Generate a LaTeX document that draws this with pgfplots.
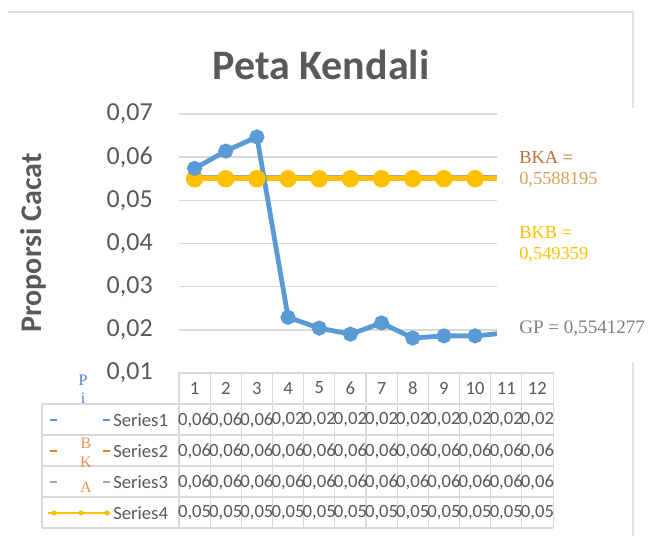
\documentclass[border=0pt]{standalone}
\usepackage{fontspec}
\setmainfont{Carlito}
\newfontfamily\tnr{Liberation Serif}
\usepackage{pgfplots}
\pgfplotsset{compat=1.18}
\definecolor{sblue}{HTML}{5B9BD5}
\definecolor{sorange}{HTML}{ED7D31}
\definecolor{sgray}{HTML}{A5A5A5}
\definecolor{syellow}{HTML}{FFC000}
\definecolor{txt}{HTML}{595959}
\definecolor{gridc}{HTML}{D9D9D9}
\definecolor{bka}{HTML}{B8733A}
\definecolor{bkanum}{HTML}{D9A05A}

\begin{document}
\begin{tikzpicture}[x=0.75pt,y=-0.75pt]
\path[use as bounding box] (0,0) rectangle (659,536);
% chart area border
\draw[gridc!80, line width=0.8pt] (8,12) -- (633,12) -- (633,536);

\begin{axis}[
    at={(134.25pt,-279.75pt)}, anchor=south west,
    scale only axis, width=280.5pt, height=194.25pt,
    xmin=0.5, xmax=12.5, ymin=0.01, ymax=0.07,
    xtick={1,2,3,4,5,6,7,8,9,10,11,12},
    ytick={0.01,0.02,0.03,0.04,0.05,0.06,0.07},
    yticklabels={{0,01},{0,02},{0,03},{0,04},{0,05},{0,06},{0,07}},
    scaled y ticks=false,
    /pgf/number format/assume math mode=true,
    axis line style={draw=none}, major tick length=0pt,
    ymajorgrids, grid style={gridc, line width=1.1pt},
    yticklabel style={font=\fontsize{19.5}{20}\selectfont, text=txt,
      anchor=east, inner sep=0pt, xshift=-19.5pt},
    xticklabel style={font=\fontsize{14}{15}\selectfont, text=txt,
      anchor=center, inner sep=0pt, yshift=-11.25pt},
  ]
  % Series2
  \addplot[sorange, line width=1.6pt] coordinates {
    (1,0.0552)(2,0.0552)(3,0.0552)(4,0.0552)(5,0.0552)(6,0.0552)
    (7,0.0552)(8,0.0552)(9,0.0552)(10,0.0552)(11,0.0552)(12,0.0552)
  };
  % Series3
  \addplot[sgray, line width=1.5pt] coordinates {
    (1,0.0556)(2,0.0556)(3,0.0556)(4,0.0556)(5,0.0556)(6,0.0556)
    (7,0.0556)(8,0.0556)(9,0.0556)(10,0.0556)(11,0.0556)(12,0.0556)
  };
  % Series4
  \addplot[syellow, line width=4pt, mark=*, mark size=4.5pt] coordinates {
    (1,0.0550)(2,0.0550)(3,0.0550)(4,0.0550)(5,0.0550)(6,0.0550)
    (7,0.0550)(8,0.0550)(9,0.0550)(10,0.0550)(11,0.0550)(12,0.0550)
  };
  % Series1
  \addplot[sblue, line width=3.6pt, mark=*, mark size=3.8pt] coordinates {
    (1,0.0574)(2,0.0614)(3,0.0647)(4,0.0229)(5,0.0204)(6,0.0190)
    (7,0.0216)(8,0.0181)(9,0.0186)(10,0.0186)(11,0.0193)(12,0.0190)
  };
\end{axis}

% title and y label
\node[font=\fontsize{31.5}{33}\selectfont\bfseries, text=txt] at (321,65) {Peta Kendali};
\node[font=\fontsize{22.5}{24}\selectfont\bfseries, text=txt, rotate=90] at (33,243) {Proporsi Cacat};

% data table grid
\begin{scope}[draw=gridc, line width=0.8pt]
  \foreach \k in {0,...,12} \draw (179+31.17*\k,372) -- (179+31.17*\k,528);
  \foreach \yy in {404,435,466,497,528} \draw (42,\yy) -- (553,\yy);
  \draw (42,404) -- (42,528);
\end{scope}

% table values
\begin{scope}[font=\fontsize{14}{15}\selectfont, text=txt]
  \foreach \i in {1,...,12} {
    \node at (163.4+31.17*\i,420) {\ifnum\i<4 0,06\else 0,02\fi};
    \node at (163.4+31.17*\i,451) {0,06};
    \node at (163.4+31.17*\i,482) {0,06};
    \node at (163.4+31.17*\i,513) {0,05};
  }
  \node[anchor=west, inner sep=0pt] at (113,420) {Series1};
  \node[anchor=west, inner sep=0pt] at (113,451) {Series2};
  \node[anchor=west, inner sep=0pt] at (113,482) {Series3};
  \node[anchor=west, inner sep=0pt] at (113,513) {Series4};
\end{scope}

% legend keys
\foreach \c/\yy in {sblue/420, sorange/451, sgray/482} {
  \draw[\c, line width=2.2pt] (50,\yy) -- (57,\yy);
  \draw[\c, line width=2.2pt] (103,\yy) -- (110,\yy);
}
\draw[syellow, line width=1.6pt] (48,513) -- (110,513);
\foreach \xx in {54,81,107} \fill[syellow] (\xx,513) circle (2.6);

% overlaid letters
\begin{scope}[font=\tnr\fontsize{12}{13}\selectfont]
  \node[text=sblue!80!blue] at (83,380) {P};
  \node[text=sblue!80!blue] at (83,398) {i};
  \node[text=sorange!85] at (86,443) {B};
  \node[text=sorange!85] at (86,462) {K};
  \node[text=sorange!85] at (86,487) {A};
\end{scope}

% text boxes over the right of the plot
\fill[white] (497,108) rectangle (659,362);
\begin{scope}[font=\tnr\fontsize{13.8}{15}\selectfont]
  \node[anchor=west, inner sep=0pt, text=bka] at (519,157) {BKA =};
  \node[anchor=west, inner sep=0pt, text=bkanum] at (519,180) {0,5588195};
  \node[anchor=west, inner sep=0pt, text=syellow] at (519,232) {BKB =};
  \node[anchor=west, inner sep=0pt, text=syellow] at (519,255) {0,549359};
  \node[anchor=west, inner sep=0pt, text=gray, font=\tnr\fontsize{14.3}{15}\selectfont] at (519,329) {GP = 0,5541277};
\end{scope}
\end{tikzpicture}
\end{document}
